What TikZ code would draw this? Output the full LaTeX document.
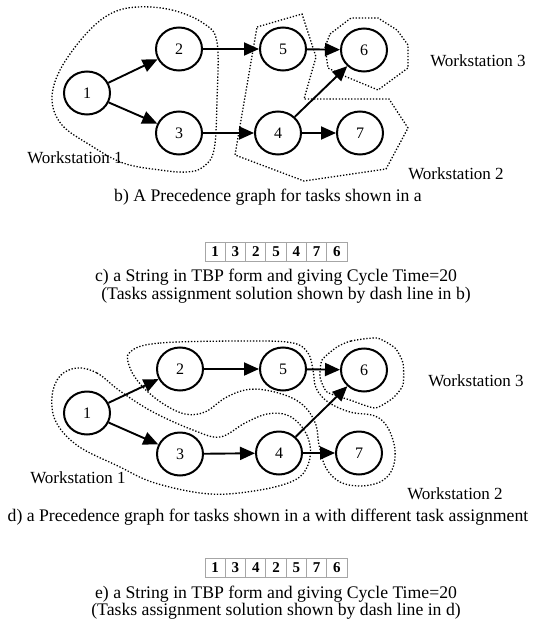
\documentclass[tikz,border=0pt]{standalone}
\usepackage{fontspec}
\setmainfont{Liberation Serif}
\usetikzlibrary{arrows.meta,shapes.geometric}
\begin{document}
\begin{tikzpicture}[x=1pt,y=-1pt,
  task/.style={ellipse,draw,line width=2pt,minimum width=46pt,minimum height=43pt,inner sep=0pt,font=\fontsize{16}{18}\selectfont},
  arr/.style={line width=1.9pt,-{Triangle[length=15pt,width=13pt]}},
  ws/.style={line width=1.3pt,dash pattern=on 1.3pt off 1.8pt},
  lbl/.style={font=\fontsize{17}{20}\selectfont,inner sep=0pt},
  captext/.style={font=\fontsize{17.7}{20}\selectfont,inner sep=0pt},
  cell/.style={draw=gray!70,line width=0.9pt,minimum width=20.3pt,minimum height=19pt,inner sep=0pt,font=\fontsize{15}{17}\selectfont\bfseries}]
\useasboundingbox (0,0) rectangle (537,623);
% ---------- top graph ----------
\node[task] (a1) at (87,93) {1};
\node[task] (a2) at (179,49) {2};
\node[task] (a3) at (179,133) {3};
\node[task] (a5) at (283,49) {5};
\node[task] (a4) at (278,133) {4};
\node[task] (a6) at (364,50) {6};
\node[task] (a7) at (360,133) {7};
\draw[arr] (a1) -- (a2);
\draw[arr] (a1) -- (a3);
\draw[arr] (a2) -- (a5);
\draw[arr] (a3) -- (a4);
\draw[arr] (a5) -- (a6);
\draw[arr] (a4) -- (a6);
\draw[arr] (a4) -- (a7);
\draw[ws] plot[smooth cycle,tension=0.6] coordinates {(137,7) (172,10) (203,23) (217,42) (217,100) (214,150) (203,167) (187,172) (160,170) (123,163) (90,145) (62,125) (52,100) (60,70) (85,35) (110,14)};
\draw[ws] (257,27) -- (302,14) -- (316,57) -- (304,99) -- (389,99) -- (408,128) -- (386,169) -- (304,181) -- (235,155) -- cycle;
\draw[ws] (330,34) -- (351,18) -- (378,18) -- (397,30) -- (408,45) -- (408,68) -- (397,76) -- (378,90) -- (342,75) -- (328,68) -- (325,47) -- cycle;
\node[lbl] (w1a) at (75,158) {Workstation 1};
\node[lbl] (w3a) at (478,61) {Workstation 3};
\node[lbl] (w2a) at (456,174) {Workstation 2};
\node[captext] (capb) at (268,197) {b) A Precedence graph for tasks shown in a};
% ---------- string c ----------
\foreach \v [count=\i] in {1,3,2,5,4,7,6}
  \node[cell] (c\i) at ({205+10.15+(\i-1)*20.3},251.5) {\v};
\node[captext] (capc1) at (276,277) {c) a String in TBP form and giving Cycle Time=20};
\node[captext] (capc2) at (286,295) {(Tasks assignment solution shown by dash line in b)};
% ---------- bottom graph ----------
\node[task] (b1) at (87,413) {1};
\node[task] (b2) at (180,369) {2};
\node[task] (b3) at (180,454) {3};
\node[task] (b5) at (283,369) {5};
\node[task] (b4) at (279,453) {4};
\node[task] (b6) at (364,370) {6};
\node[task] (b7) at (359,453) {7};
\draw[arr] (b1) -- (b2);
\draw[arr] (b1) -- (b3);
\draw[arr] (b2) -- (b5);
\draw[arr] (b3) -- (b4);
\draw[arr] (b5) -- (b6);
\draw[arr] (b4) -- (b6);
\draw[arr] (b4) -- (b7);
\draw[ws] plot[smooth cycle,tension=0.6] coordinates {(77,368) (97,373) (120,391) (153,412) (193,430) (220,437) (245,423) (267,414) (287,415) (302,427) (310,445) (308,465) (295,480) (260,490) (210,494) (155,483) (118,466) (78,446) (56,422) (52,396) (60,376)};
\draw[ws] plot[smooth cycle,tension=0.6] coordinates {(130,352) (160,343) (250,341) (293,343) (308,353) (313,370) (316,388) (328,402) (350,412) (375,416) (388,428) (395,450) (392,470) (380,482) (360,486) (340,482) (326,468) (319,445) (316,425) (306,408) (290,397) (265,390) (245,390) (225,398) (205,412) (185,414) (162,403) (142,386) (130,368)};
\draw[ws] plot[smooth cycle,tension=0.35] coordinates {(337,347) (351,341) (377,338) (395,348) (403,363) (403,385) (393,398) (375,408) (350,400) (327,392) (320,377) (322,360)};
\node[lbl] (w1b) at (78,478) {Workstation 1};
\node[lbl] (w3b) at (476,381) {Workstation 3};
\node[lbl] (w2b) at (455,494) {Workstation 2};
\node[captext] (capd) at (268,517) {d) a Precedence graph for tasks shown in a with different task assignment};
% ---------- string e ----------
\foreach \v [count=\i] in {1,3,4,2,5,7,6}
  \node[cell] (e\i) at ({205+10.15+(\i-1)*20.3},567.5) {\v};
\node[captext] (cape1) at (276,594) {e) a String in TBP form and giving Cycle Time=20};
\node[captext] (cape2) at (276,611) {(Tasks assignment solution shown by dash line in d)};
\end{tikzpicture}
\end{document}
